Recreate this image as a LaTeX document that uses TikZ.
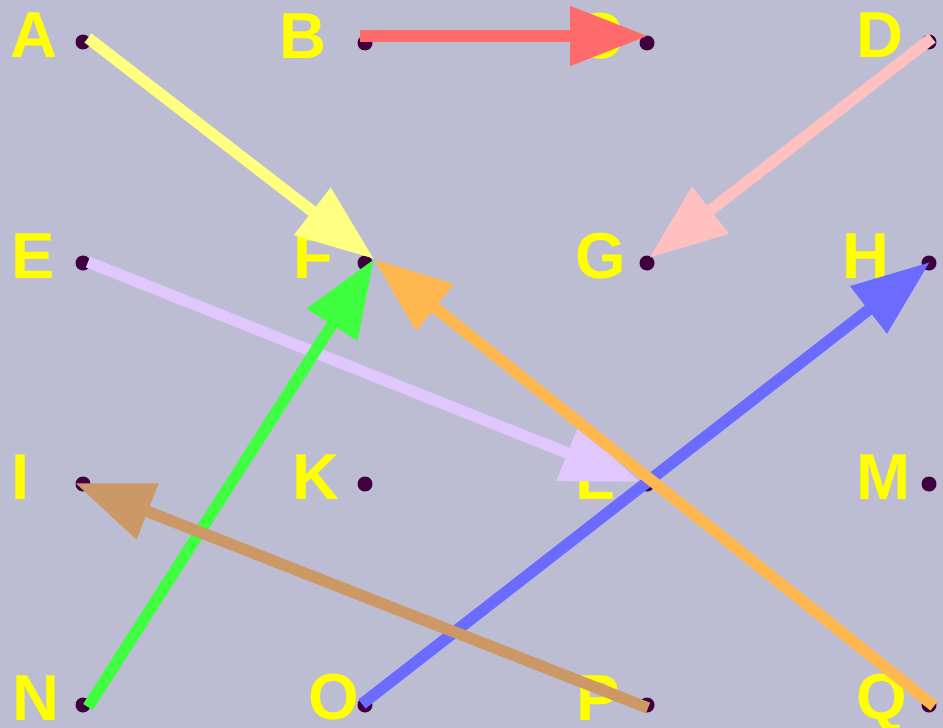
\documentclass[tikz,border=0pt]{standalone}
\usepackage{fontspec}
\setmainfont{Liberation Sans}
\usetikzlibrary{arrows.meta}
\definecolor{bgfill}{RGB}{188,188,210}
\definecolor{dotfill}{RGB}{64,0,64}
\definecolor{lblyellow}{RGB}{255,255,0}
\definecolor{linkyellow}{RGB}{255,255,128}
\definecolor{linkred}{RGB}{255,107,107}
\definecolor{linkpink}{RGB}{255,192,192}
\definecolor{linklilac}{RGB}{224,200,255}
\definecolor{linkgreen}{RGB}{64,255,64}
\definecolor{linkblue}{RGB}{107,107,255}
\definecolor{linktan}{RGB}{204,153,102}
\definecolor{linkorange}{RGB}{255,184,80}

\begin{document}
\begin{tikzpicture}[x=1pt, y=-1pt,
 ptdot/.style={circle, fill=dotfill, inner sep=0pt,
          minimum width=15pt, minimum height=14pt},
 ptlabel/.style={anchor=base west, text=lblyellow, inner sep=0pt,
          font=\fontsize{65}{65}\selectfont\bfseries},
 link/.style={-{Triangle[length=78pt,width=57pt]}, line width=11.5pt}
]
\fill[bgfill] (0,0) rectangle (943,728);
\useasboundingbox (0,0) rectangle (943,728);
% Sixteen points on a 4x4 grid, each with its letter
\node[ptdot] (a) at (83,42) {};
\node[ptdot] (b) at (365,43) {};
\node[ptdot] (c) at (647,43) {};
\node[ptdot] (d) at (929,42) {};
\node[ptdot] (e) at (83,263) {};
\node[ptdot] (f) at (365,263) {};
\node[ptdot] (g) at (647,263) {};
\node[ptdot] (h) at (929,263) {};
\node[ptdot] (i) at (83,484) {};
\node[ptdot] (k) at (365,484) {};
\node[ptdot] (l) at (647,484) {};
\node[ptdot] (m) at (929,484) {};
\node[ptdot] (n) at (83,705) {};
\node[ptdot] (o) at (365,705) {};
\node[ptdot] (p) at (647,705) {};
\node[ptdot] (q) at (929,705) {};
\node[ptlabel] (la) at ([xshift=-73pt,yshift=-15pt]a.center) {A};
\node[ptlabel] (lb) at ([xshift=-86pt,yshift=-15pt]b.center) {B};
\node[ptlabel] (lc) at ([xshift=-72pt,yshift=-15pt]c.center) {C};
\node[ptlabel] (ld) at ([xshift=-73pt,yshift=-15pt]d.center) {D};
\node[ptlabel] (le) at ([xshift=-72pt,yshift=-15pt]e.center) {E};
\node[ptlabel] (lf) at ([xshift=-72pt,yshift=-15pt]f.center) {F};
\node[ptlabel] (lg) at ([xshift=-72pt,yshift=-15pt]g.center) {G};
\node[ptlabel] (lh) at ([xshift=-87pt,yshift=-15pt]h.center) {H};
\node[ptlabel] (li) at ([xshift=-72pt,yshift=-15pt]i.center) {I};
\node[ptlabel] (lk) at ([xshift=-73pt,yshift=-15pt]k.center) {K};
\node[ptlabel] (ll) at ([xshift=-72pt,yshift=-15pt]l.center) {L};
\node[ptlabel] (lm) at ([xshift=-73pt,yshift=-15pt]m.center) {M};
\node[ptlabel] (ln) at ([xshift=-71pt,yshift=-15pt]n.center) {N};
\node[ptlabel] (lo) at ([xshift=-57pt,yshift=-14pt]o.center) {O};
\node[ptlabel] (lp) at ([xshift=-71pt,yshift=-15pt]p.center) {P};
\node[ptlabel] (lq) at ([xshift=-73pt,yshift=-14pt]q.center) {Q};
% The arrows, in order of their start point
\draw[link, linkyellow] ([shift={(5pt,4pt)}]a.center) -- ([shift={(9pt,4pt)}]f.center);
\draw[link, linkred] ([shift={(-5pt,7pt)}]b.center) -- ([shift={(1pt,7pt)}]c.center);
\draw[link, linkpink] ([shift={(3pt,4pt)}]d.center) -- ([shift={(2pt,5pt)}]g.center);
\draw[link, linklilac] ([shift={(5pt,1pt)}]e.center) -- ([shift={(-7pt,2pt)}]l.center);
\draw[link, linkgreen] ([shift={(5pt,-2pt)}]n.center) -- ([shift={(9pt,4pt)}]f.center);
\draw[link, linkblue] ([shift={(-3pt,1pt)}]o.center) -- ([shift={(1pt,1pt)}]h.center);
\draw[link, linktan] ([shift={(1pt,-3pt)}]p.center) -- ([shift={(-8pt,1pt)}]i.center);
\draw[link, linkorange] ([shift={(5pt,-1pt)}]q.center) -- ([shift={(9pt,4pt)}]f.center);
\end{tikzpicture}
\end{document}
